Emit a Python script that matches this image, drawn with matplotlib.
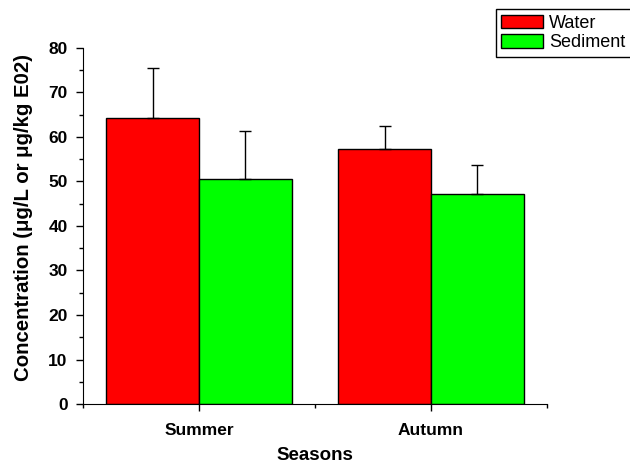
import numpy as np
import matplotlib
matplotlib.use("Agg")
import matplotlib.pyplot as plt
from matplotlib.ticker import MultipleLocator

seasons = ["Summer", "Autumn"]
water = [64.2, 57.3]
water_err = [11.2, 5.2]
sediment = [50.5, 47.2]
sediment_err = [10.9, 6.4]

plt.rcParams["font.family"] = ["Liberation Sans", "DejaVu Sans"]

fig = plt.figure(figsize=(6.3, 4.63), dpi=100)
ax = fig.add_axes([0.1317, 0.1274, 0.7365, 0.769])

x = np.arange(1, len(seasons) + 1)
w = 0.4
err_kw = dict(ecolor="black", elinewidth=1, capsize=4, capthick=1)
ax.bar(x - w / 2, water, w, color="#ff0000", edgecolor="black", linewidth=1,
       yerr=[np.zeros(len(water)), water_err], error_kw=err_kw, label="Water")
ax.bar(x + w / 2, sediment, w, color="#00ff00", edgecolor="black", linewidth=1,
       yerr=[np.zeros(len(sediment)), sediment_err], error_kw=err_kw, label="Sediment")

ax.set_xlim(0.5, 2.5)
ax.set_ylim(0, 80)
ax.set_xticks(x)
ax.set_xticklabels(seasons, fontweight="bold", fontsize=12.5)
ax.xaxis.set_minor_locator(MultipleLocator(0.5))
ax.yaxis.set_major_locator(MultipleLocator(10))
ax.yaxis.set_minor_locator(MultipleLocator(5))
for lab in ax.get_yticklabels():
    lab.set_fontweight("bold")
    lab.set_fontsize(12.5)
ax.tick_params(which="major", direction="out", length=5, width=1, pad=9)
ax.tick_params(axis="y", which="major", pad=6)
ax.tick_params(which="minor", direction="out", length=3, width=1)
ax.xaxis.set_tick_params(which="minor", bottom=True)

for s in ["top", "right"]:
    ax.spines[s].set_visible(False)

ax.set_xlabel("Seasons", fontweight="bold", fontsize=13.5, labelpad=6)
ax.set_ylabel("Concentration (μg/L or μg/kg E02)", fontweight="bold", fontsize=14.7)
ax.yaxis.set_label_coords(-0.108, 0.525)

fig.legend(loc="upper left", bbox_to_anchor=(0.787, 0.98), fontsize=13,
           frameon=True, fancybox=False, edgecolor="black", framealpha=1,
           handlelength=2.3, handleheight=0.75, handletextpad=0.35,
           borderpad=0.3, labelspacing=0.15, borderaxespad=0)

fig.savefig("out.png", dpi=100)
